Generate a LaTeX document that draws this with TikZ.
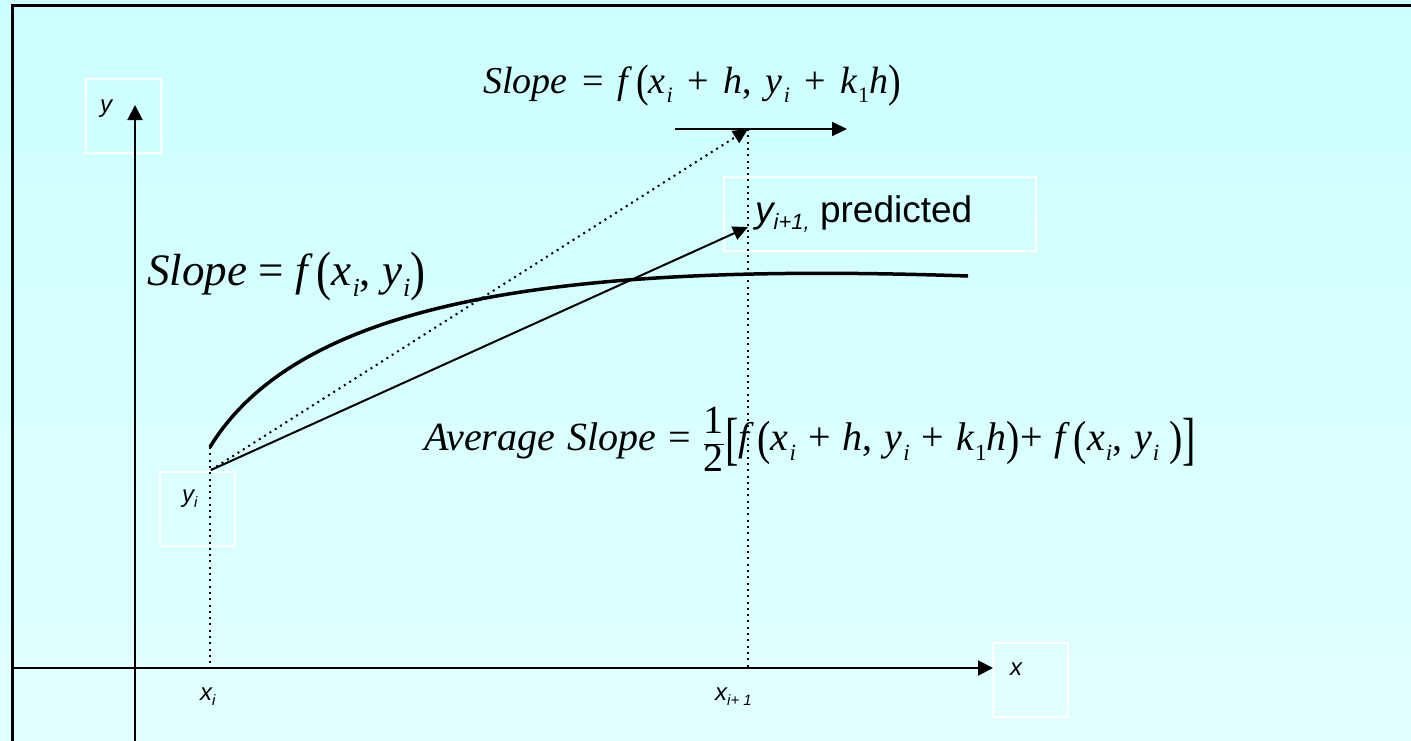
\documentclass[tikz,border=0pt]{standalone}
\usepackage{fontspec}
\setmainfont{Liberation Serif}
\newfontfamily\arial{Liberation Sans}
\usetikzlibrary{arrows.meta}
\definecolor{bgtop}{RGB}{204,255,255}
\definecolor{bgbot}{RGB}{226,255,255}
\newcommand\ssub[1]{\kern1pt\raisebox{-0.25em}{\fontsize{0.58em}{0.6em}\selectfont #1}}
\newcommand\asub[1]{\raisebox{-0.22em}{\fontsize{15}{15}\selectfont #1}}
\newcommand\lpar{\raisebox{-0.1em}{\scalebox{1}[1.2]{(}}}
\newcommand\rpar{\raisebox{-0.1em}{\scalebox{1}[1.2]{)}}}
\newcommand\lbrk{\raisebox{-0.2em}{\scalebox{1}[1.45]{[}}}
\newcommand\rbrk{\raisebox{-0.2em}{\scalebox{1}[1.45]{]}}}
\newcommand\fx{{\itshape f}\kern0.2em}
\begin{document}
\begin{tikzpicture}[x=1pt,y=-1pt,
  formula/.style={inner sep=0pt, anchor=base west},
  axlabel/.style={font=\arial\itshape\fontsize{24}{26}\selectfont, inner sep=0pt, anchor=base west},
  whitebox/.style={draw=white, line width=2pt, inner sep=0pt},
  axisline/.style={line width=2pt, -{Triangle[length=15pt,width=15pt]}},
  arrowline/.style={line width=2pt, -{Triangle[length=15pt,width=14pt]}},
  dotline/.style={line width=2pt, dash pattern=on 2pt off 4.3pt},
  curveline/.style={line width=3.5pt}]
\useasboundingbox (0,0) rectangle (1411,740);
\shade[top color=bgtop, bottom color=bgbot] (0,0) rectangle (1411,740);
\draw[line width=3pt] (12,745) -- (12,5) -- (1415,5);

% coordinates
\coordinate (ybot) at (135,745);
\coordinate (ytop) at (135,105);
\coordinate (xleft) at (12,668);
\coordinate (xright) at (993,668);
\coordinate (start) at (211,470);
\coordinate (cstart) at (210,447);
\coordinate (cend) at (968,276);
\coordinate (xi) at (210,668);
\coordinate (xione) at (748,668);
\coordinate (ptop) at (748,129);
\coordinate (ppred) at (748,227);
\coordinate (hleft) at (675,129);
\coordinate (hright) at (847,129);

% white boxes
\node[whitebox, minimum width=75pt, minimum height=74pt] (ybox) at (123.5,116) {};
\node[whitebox, minimum width=75pt, minimum height=74pt] (xbox) at (1030.5,680) {};
\node[whitebox, minimum width=75pt, minimum height=74pt] (yibox) at (197.5,509) {};
\node[whitebox, minimum width=312pt, minimum height=74pt] (predbox) at (880,214) {};

% axes
\draw[axisline] (ybot) -- (ytop);
\draw[axisline] (xleft) -- (xright);

% dotted verticals
\draw[dotline] (cstart) -- (xi);
\draw[dotline] (ptop) -- (xione);

% curve
\draw[curveline] (cstart) .. controls (300,300) and (560,262) .. (cend);

% slope lines
\draw[dotline, -{Triangle[length=15pt,width=14pt]}] (start) -- (ptop);
\draw[arrowline] (start) -- (ppred);
\draw[arrowline] (hleft) -- (hright);

% axis labels
\node[axlabel] (ylab) at (100,112) {y};
\node[axlabel] (xlab) at (1010,675) {x};
\node[axlabel] (yilab) at (182,502) {y\asub{i}};
\node[axlabel] (xilab) at (200,700) {x\asub{i}};
\node[axlabel] (xionelab) at (715,700) {x\asub{i+ 1}};

% prediction label
\node[inner sep=0pt, anchor=base west, font=\arial\fontsize{37}{40}\selectfont] (pred) at (755,222)
  {\itshape y\raisebox{-0.2em}{\fontsize{22}{22}\selectfont i+1,} \upshape predicted};

% formulas
\node[formula, font=\fontsize{38}{40}\selectfont] (slopetop) at (483,93)
  {\spaceskip=0.38em\relax{\itshape Slope} = \fx\lpar{\itshape x}\ssub{\itshape i} + {\itshape h}, {\itshape y}\ssub{\itshape i} + {\itshape k}\ssub{1}{\itshape h}\rpar};
\node[formula, font=\fontsize{45}{48}\selectfont] (slopeleft) at (147,285)
  {\spaceskip=0.25em\relax{\itshape Slope} = \fx\lpar{\itshape x}\ssub{\itshape i}, {\itshape y}\ssub{\itshape i}\rpar};
\node[formula, font=\fontsize{40}{42}\selectfont] (avg) at (424,450)
  {\spaceskip=0.3em\relax{\itshape Average Slope} = $\displaystyle\frac{\mbox{1}}{\mbox{2}}$\lbrk\fx\lpar{\itshape x}\ssub{\itshape i} + {\itshape h}, {\itshape y}\ssub{\itshape i} + {\itshape k}\ssub{1}{\itshape h}\rpar+ \fx\lpar{\itshape x}\ssub{\itshape i}, {\itshape y}\ssub{\itshape i}\kern0.25em\rpar\rbrk};
\end{tikzpicture}
\end{document}
